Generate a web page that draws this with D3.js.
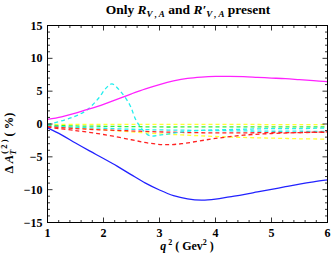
<!DOCTYPE html>
<html><head><meta charset="utf-8">
<script src="https://cdn.jsdelivr.net/npm/d3@7"></script>
<style>body{margin:0;background:#fff}svg text{font-family:"Liberation Serif","Times New Roman",serif;}</style>
</head><body>
<svg id="c" width="332" height="259"></svg>
<script>
const qMagenta = [1,1.25,1.5,1.75,2,2.25,2.5,2.75,3,3.25,3.5,3.75,4,4.25,4.5,4.75,5,5.25,5.5,5.75,6];
const magenta = [0.7,1.1,1.65,2.3,3.0,3.8,4.6,5.35,6.0,6.55,6.95,7.15,7.25,7.25,7.2,7.1,7.0,6.9,6.75,6.6,6.45];
const blue = [-0.6,-1.65,-2.9,-4.1,-5.25,-6.45,-7.75,-9.0,-10.05,-10.9,-11.4,-11.6,-11.45,-11.1,-10.75,-10.35,-9.95,-9.55,-9.15,-8.8,-8.5];
const qCyanBump = [1,1.3,1.5,1.7,1.9,2.05,2.15,2.3,2.47,2.58,2.7,2.83,3.0,3.25,3.5,4,4.5,5,5.5,6];
const cyanBump = [-0.1,0.6,1.2,2.1,3.8,5.5,6.1,5.0,2.9,0.6,-0.9,-1.8,-1.7,-1.4,-1.1,-0.9,-0.8,-0.7,-0.7,-0.6];
const qFlat = [1,1.5,2,2.5,3,3.5,4,4.5,5,5.5,6];
const yellowTop = [-0.05,-0.05,-0.05,-0.05,-0.05,-0.05,-0.05,-0.05,-0.1,-0.1,-0.1];
const green = [-0.2,-0.3,-0.35,-0.4,-0.45,-0.45,-0.45,-0.45,-0.45,-0.45,-0.45];
const cyanFlat = [-0.3,-0.5,-0.65,-0.8,-0.9,-0.95,-1.0,-1.05,-1.1,-1.1,-1.15];
const redFlat = [-0.4,-0.7,-0.9,-1.05,-1.2,-1.3,-1.35,-1.35,-1.3,-1.3,-1.25];
const yellowLow = [-0.3,-0.6,-0.9,-1.2,-1.5,-1.7,-1.9,-2.05,-2.15,-2.25,-2.3];
const qRedDip = [1,1.5,2,2.5,2.8,3.1,3.4,3.7,4,4.5,5,5.5,6];
const redDip = [-0.5,-1.0,-1.6,-2.4,-2.9,-3.15,-3.0,-2.6,-2.2,-1.7,-1.45,-1.3,-1.2];
const xTicks = [1,2,3,4,5,6];
const yTicks = [-15,-10,-5,0,5,10,15];

const svg = d3.select("#c");
const L=47.5,R=327.5,T=25.5,B=222.5;
const x = d3.scaleLinear().domain([1,6]).range([L,R]);
const y = d3.scaleLinear().domain([-15,15]).range([B,T]);

const g = svg.append("g");
g.append("defs").append("clipPath").attr("id","cp").append("rect").attr("x",L).attr("y",T).attr("width",R-L).attr("height",B-T);
const plot = g.append("g").attr("clip-path","url(#cp)");
const line = d3.line().x(d=>x(d[0])).y(d=>y(d[1])).curve(d3.curveCatmullRom.alpha(0.5));
function draw(qs, vs, color, dash){
  plot.append("path").datum(qs.map((q,i)=>[q,vs[i]])).attr("d",line)
    .attr("fill","none").attr("stroke",color).attr("stroke-width",1.3)
    .attr("stroke-dasharray",dash?"4,3":null);
}
draw(qFlat, yellowLow, "#ffff33", true);
draw(qFlat, yellowTop, "#ffff33", true);
draw(qFlat, green, "#33ee33", true);
draw(qFlat, cyanFlat, "#22eeee", true);
draw(qFlat, redFlat, "#ff2222", true);
draw(qRedDip, redDip, "#ff2222", true);
draw(qCyanBump, cyanBump, "#22eeee", true);
draw(qMagenta, magenta, "#ff22ff", false);
draw(qMagenta, blue, "#2222ff", false);

// frame
g.append("rect").attr("x",L).attr("y",T).attr("width",R-L).attr("height",B-T).attr("fill","none").attr("stroke","#000").attr("stroke-width",1);
// ticks
const tk = g.append("g").attr("stroke","#000").attr("stroke-width",0.8);
for(let v=1; v<=6.0001; v+=0.2){
  const major = Math.abs(v-Math.round(v))<1e-6;
  const len = major?5:2.5;
  const xx = x(v);
  tk.append("line").attr("x1",xx).attr("x2",xx).attr("y1",B).attr("y2",B-len);
  tk.append("line").attr("x1",xx).attr("x2",xx).attr("y1",T).attr("y2",T+len);
}
for(let v=-15; v<=15; v+=1){
  const major = v%5===0;
  const len = major?5:2.5;
  const yy = y(v);
  tk.append("line").attr("y1",yy).attr("y2",yy).attr("x1",L).attr("x2",L+len);
  tk.append("line").attr("y1",yy).attr("y2",yy).attr("x1",R).attr("x2",R-len);
}
// tick labels
g.selectAll(".xl").data(xTicks).enter().append("text").attr("x",d=>x(d)).attr("y",B+14)
  .attr("text-anchor","middle").attr("font-weight","bold").attr("font-size",12).text(d=>d);
g.selectAll(".yl").data(yTicks).enter().append("text").attr("x",L-5).attr("y",d=>y(d)+4)
  .attr("text-anchor","end").attr("font-weight","bold").attr("font-size",12).text(d=>d<0?"\u2212"+Math.abs(d):d);

// title
const t = g.append("text").attr("x",188).attr("y",14).attr("text-anchor","middle").attr("font-weight","bold").attr("font-size",13.5);
t.append("tspan").text("Only ");
t.append("tspan").attr("font-style","italic").text("R");
t.append("tspan").attr("font-style","italic").attr("font-size",9).attr("dy",3).text("V , A");
t.append("tspan").attr("dy",-3).text("  and ");
t.append("tspan").attr("font-style","italic").text("R\u2032");
t.append("tspan").attr("font-style","italic").attr("font-size",9).attr("dy",3).text("V , A");
t.append("tspan").attr("dy",-3).text(" present");

// x label
const xl = g.append("text").attr("x",187).attr("y",250).attr("text-anchor","middle").attr("font-weight","bold").attr("font-size",12);
xl.append("tspan").attr("font-style","italic").text("q");
xl.append("tspan").attr("font-size",8).attr("dy",-5).text(" 2");
xl.append("tspan").attr("dy",5).text(" ( Gev");
xl.append("tspan").attr("font-size",8).attr("dy",-5).text("2");
xl.append("tspan").attr("dy",5).text(" )");

// y label
const yl = g.append("text").attr("transform","translate(13,143) rotate(-90)").attr("text-anchor","middle").attr("font-weight","bold").attr("font-size",12.5);
yl.append("tspan").text("\u0394  ");
yl.append("tspan").attr("font-style","italic").text("A");
yl.append("tspan").attr("font-style","italic").attr("font-size",8.5).attr("dy",3).text("T");
yl.append("tspan").attr("font-size",8.5).attr("dy",-9).attr("dx",-4).text("( 2 )");
yl.append("tspan").attr("dy",6).text("  ( %)");
</script>
</body></html>
